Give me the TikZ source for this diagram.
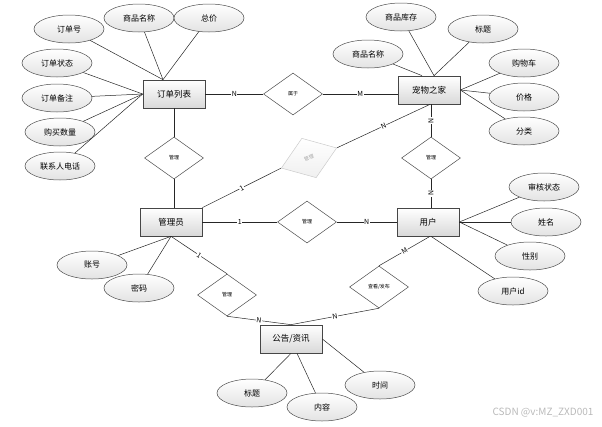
\documentclass[tikz,border=0pt]{standalone}
\usepackage{fontspec}
\setmainfont{Noto Sans CJK SC}
\usetikzlibrary{shapes.geometric}
\begin{document}
\begin{tikzpicture}[x=1pt,y=-1pt,
  entity/.style={rectangle,draw=gray!55!black,line width=0.7pt,top color=white,bottom color=gray!30,
    minimum width=62pt,minimum height=28pt,font=\fontsize{8.5}{10}\selectfont},
  attr/.style={ellipse,draw=gray!60!black,line width=0.5pt,top color=white,bottom color=gray!22,
    minimum width=70pt,minimum height=28pt,inner sep=0pt,font=\fontsize{8}{10}\selectfont},
  rel/.style={diamond,draw=gray!60!black,line width=0.5pt,fill=white,aspect=1.4,
    minimum width=59pt,minimum height=42pt,inner sep=0pt,font=\fontsize{5}{6}\selectfont},
  card/.style={fill=white,inner sep=0.6pt,sloped,font=\fontsize{7}{8}\selectfont},
  link/.style={draw=gray!30!black,line width=0.5pt}]
\useasboundingbox (0,0) rectangle (602,426);

\node[entity] (ol) at (174,94) {订单列表};
\node[entity] (pet) at (429,90) {宠物之家};
\node[entity] (am) at (171,222) {管理员};
\node[entity] (us) at (428,222) {用户};
\node[entity] (gg) at (291,339) {公告/资讯};

\node[rel] (bel) at (293,94) {属于};
\node[rel] (r1) at (174,158) {管理};
\node[rel,rotate=20,draw=gray!40,top color=white,bottom color=gray!12,text=gray!70] (r2) at (309,158) {管理};
\node[rel] (r3) at (431,158) {管理};
\node[rel] (r4) at (307,222) {管理};
\node[rel] (r5) at (227,295) {管理};
\node[rel] (r6) at (379,287) {查看/发布};

\foreach \n/\xy/\t in {a/{139,18}/商品名称,b/{209,18}/总价,c/{69,29}/订单号} {
  \node[attr] (o\n) at (\xy) {\t};
  \draw[link] (o\n) -- ([xshift=-11pt]ol.north);
}
\foreach \n/\xy/\t in {d/{57,63}/订单状态,e/{57,98}/订单备注,f/{60,132}/购买数量,g/{60,166}/联系人电话} {
  \node[attr] (o\n) at (\xy) {\t};
  \draw[link] (o\n) -- (ol.west);
}
\foreach \n/\xy/\t/\dx in {a/{401,17}/商品库存/5,b/{483,29}/标题/5,c/{368,54}/商品名称/-7} {
  \node[attr] (p\n) at (\xy) {\t};
  \draw[link] (p\n) -- ([xshift=\dx pt]pet.north);
}
\foreach \n/\xy/\t in {d/{524,63}/购物车,e/{524,97}/价格,f/{524,131}/分类} {
  \node[attr] (p\n) at (\xy) {\t};
  \draw[link] (p\n) -- (pet.east);
}
\foreach \n/\xy/\t in {a/{544,187}/审核状态,b/{546,222}/姓名,c/{530,256}/性别} {
  \node[attr] (u\n) at (\xy) {\t};
  \draw[link] (u\n) -- (us.east);
}
\node[attr] (ud) at (513,291) {用户id};
\draw[link] (ud) -- ([xshift=3pt]us.south);
\foreach \n/\xy/\t in {a/{92,265}/账号,b/{139,288}/密码} {
  \node[attr] (m\n) at (\xy) {\t};
  \draw[link] (m\n) -- (am.south);
}
\node[attr] (ga) at (252,393) {标题};
\node[attr] (gb) at (322,407) {内容};
\node[attr] (gc) at (380,385) {时间};
\draw[link] (ga) -- (gg.south);
\draw[link] (gb) -- ([xshift=6pt]gg.south);
\draw[link] (gc) -- (gg.east);

\draw[link] (ol) -- node[card] {N} (bel);
\draw[link] (bel.east) -- node[card] {M} (bel.east -| pet.west);
\draw[link] (ol) -- (r1);
\draw[link] (r1.south) -- (r1.south |- am.north);
\draw[link] (am.north east) -- node[card] {1} (r2.west);
\draw[link] (r2.east) -- node[card] {N} ([xshift=1pt]pet.south);
\draw[link] (r3.north |- pet.south) -- node[card] {N} (r3.north);
\draw[link] (r3.south) -- node[card] {N} (r3.south |- us.north);
\draw[link] (am) -- node[card] {1} (r4);
\draw[link] (r4) -- node[card] {N} (us);
\draw[link] (am.south) -- node[card] {1} (r5.north);
\draw[link] (r5.south) -- node[card] {N} (gg.north);
\draw[link] ([xshift=2pt]us.south) -- node[card] {M} (r6.north);
\draw[link] (r6.south) -- node[card] {N} (gg.north);

\node[text=gray!55,font=\fontsize{10}{12}\selectfont,anchor=east] (wm) at (597,413) {CSDN @v:MZ\_ZXD001};
\end{tikzpicture}
\end{document}
